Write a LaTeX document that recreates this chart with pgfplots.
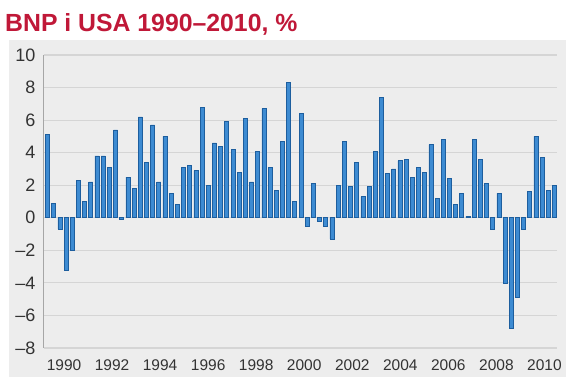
\documentclass[border=0pt]{standalone}
\usepackage{pgfplots}
\pgfplotsset{compat=1.18}
\usepackage{fontspec}
\setmainfont{Liberation Sans}
\definecolor{bgray}{HTML}{EDEDED}
\definecolor{gridc}{HTML}{D5D5D5}
\definecolor{barfill}{HTML}{3D8BD2}
\definecolor{baredge}{HTML}{1D5E9E}
\definecolor{titlered}{HTML}{C01838}
\definecolor{txt}{HTML}{333333}
\begin{document}
\begin{tikzpicture}[x=1pt,y=1pt]
\useasboundingbox (0,0) rectangle (566,378);
\fill[white] (0,0) rectangle (566,378);
\fill[bgray] (9,1) rectangle (566,338);
\node[anchor=base west, inner sep=0pt, text=titlered, font=\fontsize{24.8}{28}\selectfont\bfseries] at (5,346) {BNP i USA 1990–2010, \%};
\begin{axis}[
  at={(43.5pt,30pt)}, anchor=south west,
  scale only axis, width=513.5pt, height=293pt,
  xmin=-0.65, xmax=82.4, ymin=-8, ymax=10,
  axis line style={draw=none},
  ytick={-8,-6,-4,-2,0,2,4,6,8,10},
  yticklabels={–8,–6,–4,–2,0,2,4,6,8,10},
  xtick={2.67,10.44,18.21,25.98,33.75,41.52,49.29,57.06,64.83,72.6,80.37},
  xticklabels={1990,1992,1994,1996,1998,2000,2002,2004,2006,2008,2010},
  major tick length=0pt,
  ymajorgrids, grid style={gridc, line width=1.2pt},
  yticklabel style={font=\fontsize{18}{20}\selectfont, text=txt, inner sep=0pt, anchor=east, xshift=-8pt},
  xticklabel style={font=\fontsize{15.5}{18}\selectfont, text=txt, inner sep=0pt, anchor=north, yshift=-11pt},
  ybar, bar width=4pt,
  clip=false,
]
\addplot[fill=barfill, draw=baredge, line width=0.7pt] table[x expr=\coordindex, y=v] {
v
5.1
0.9
-0.7
-3.2
-2.0
2.3
1.0
2.2
3.8
3.8
3.1
5.4
-0.1
2.5
1.8
6.2
3.4
5.7
2.2
5.0
1.5
0.8
3.1
3.2
2.9
6.8
2.0
4.6
4.4
5.9
4.2
2.8
6.1
2.2
4.1
6.7
3.1
1.7
4.7
8.3
1.0
6.4
-0.5
2.1
-0.2
-0.5
-1.3
2.0
4.7
1.9
3.4
1.3
1.9
4.1
7.4
2.7
3.0
3.5
3.6
2.5
3.1
2.8
4.5
1.2
4.8
2.4
0.8
1.5
0.1
4.8
3.6
2.1
-0.7
1.5
-4.0
-6.8
-4.9
-0.7
1.6
5.0
3.7
1.7
2.0
};
\draw[gray!70, line width=1pt] (rel axis cs:0,0) -- (rel axis cs:0,1);
\end{axis}
\end{tikzpicture}
\end{document}
